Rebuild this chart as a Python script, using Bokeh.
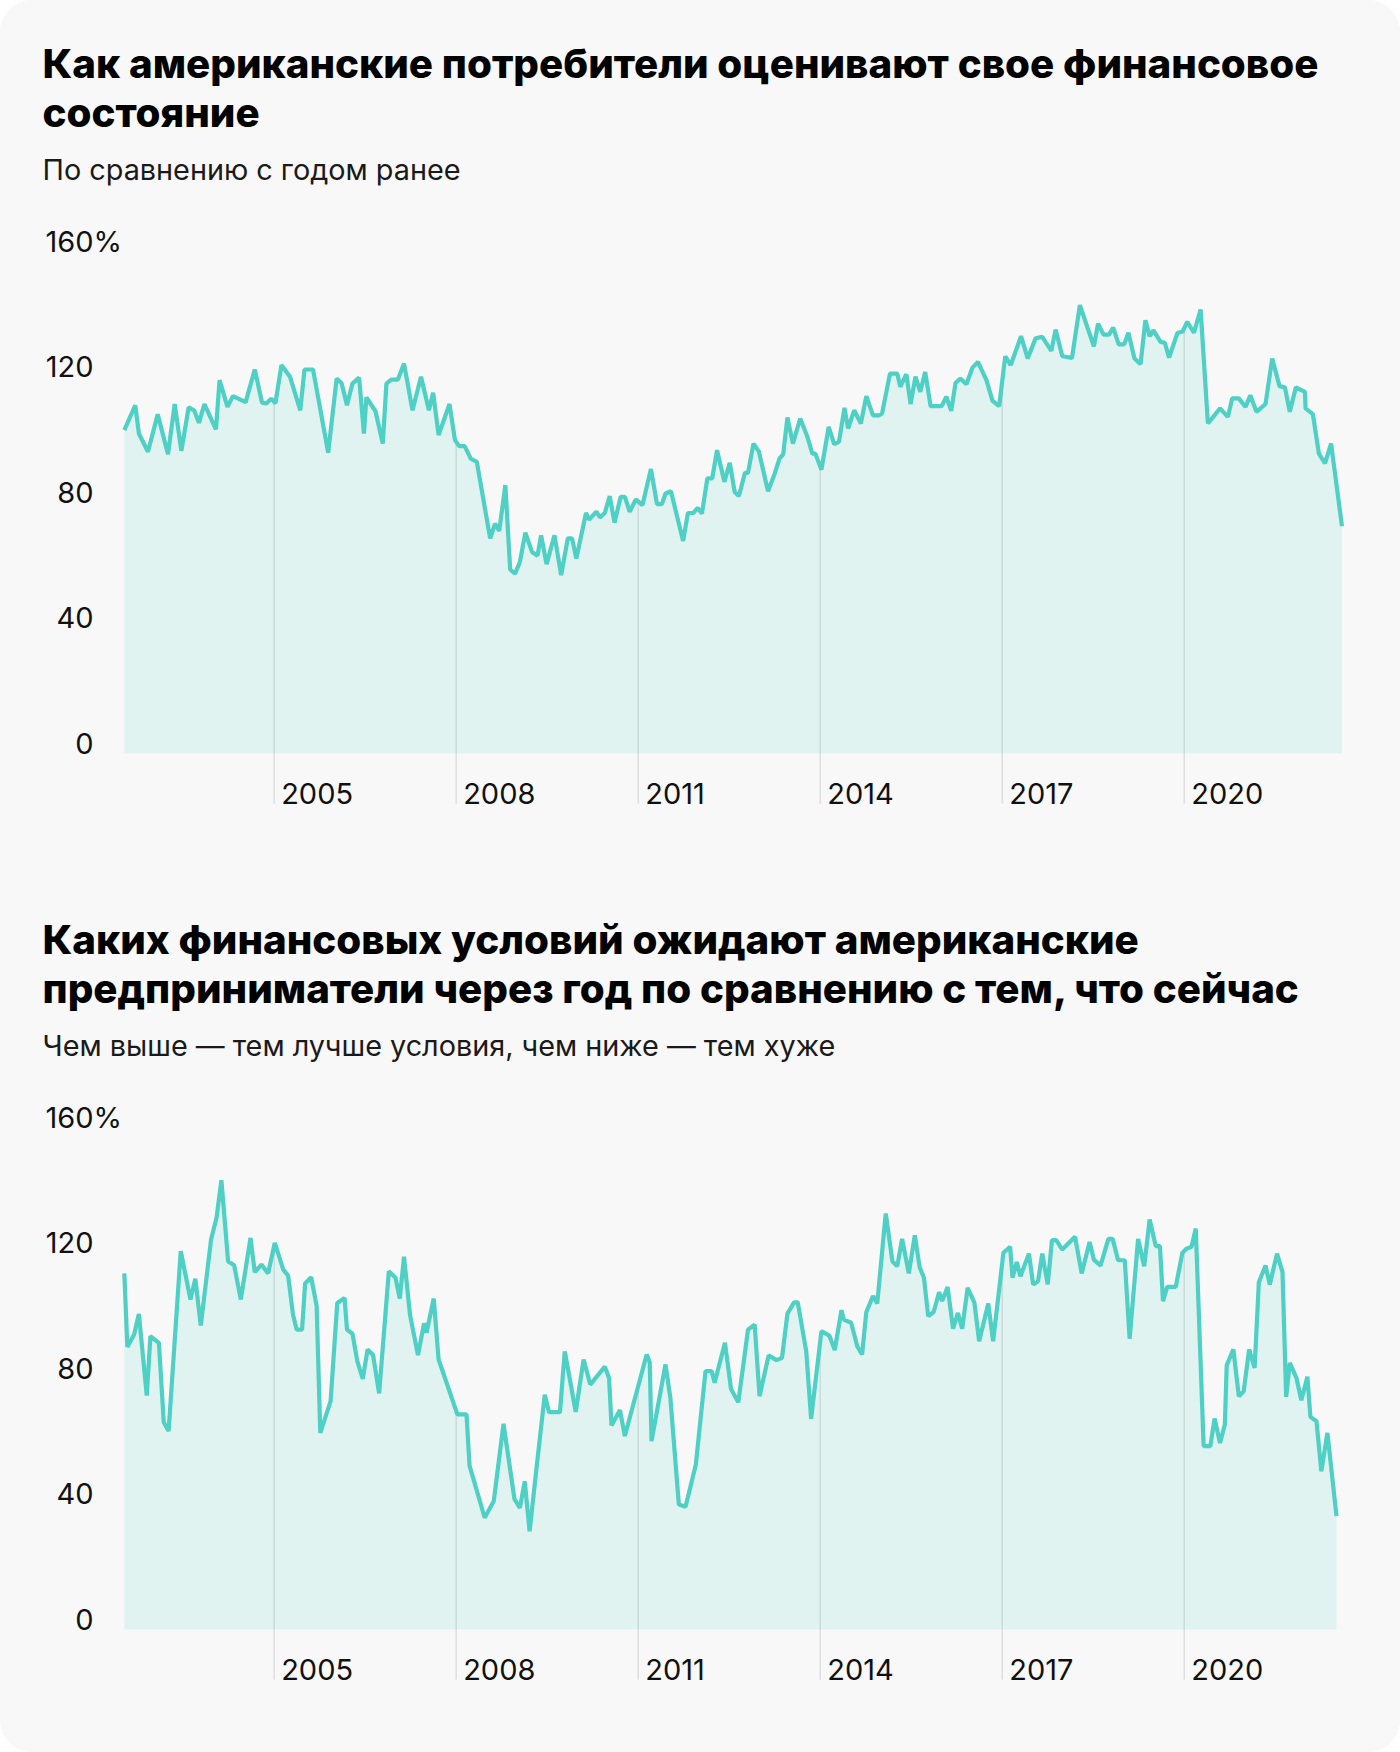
import numpy as np
from bokeh.plotting import figure
from bokeh.layouts import column
from bokeh.models import Range1d, Label, ColumnDataSource
from bokeh.core.properties import value
from bokeh.embed import file_html
from bokeh.resources import INLINE

# ---------------- data ----------------
title_1 = ["Как американские потребители оценивают свое финансовое", "состояние"]
subtitle_1 = "По сравнению с годом ранее"
title_2 = ["Каких финансовых условий ожидают американские",
           "предприниматели через год по сравнению с тем, что сейчас"]
subtitle_2 = "Чем выше — тем лучше условия, чем ниже — тем хуже"

year_ticks = [2005, 2008, 2011, 2014, 2017, 2020]
y_ticks = [0, 40, 80, 120, 160]
y_tick_labels = ["0", "40", "80", "120", "160"]
y_unit = "%"          # shown after the top tick label only

# consumers: current financial situation vs a year ago (decimal years)
cons_years = [
    2002.53, 2002.71, 2002.77, 2002.92, 2003.08, 2003.25, 2003.36, 2003.47, 2003.59, 2003.68,
    2003.76, 2003.85, 2004.04, 2004.10, 2004.23, 2004.32, 2004.53, 2004.68, 2004.80, 2004.87,
    2004.95, 2005.02, 2005.12, 2005.26, 2005.43, 2005.50, 2005.64, 2005.89, 2006.03, 2006.11,
    2006.20, 2006.29, 2006.40, 2006.48, 2006.52, 2006.67, 2006.79, 2006.85, 2006.93, 2007.04,
    2007.14, 2007.28, 2007.42, 2007.55, 2007.62, 2007.71, 2007.89, 2007.98, 2008.05, 2008.14,
    2008.24, 2008.34, 2008.56, 2008.64, 2008.71, 2008.81, 2008.89, 2008.97, 2009.05, 2009.14,
    2009.25, 2009.34, 2009.40, 2009.49, 2009.62, 2009.73, 2009.84, 2009.91, 2009.98, 2010.14,
    2010.19, 2010.31, 2010.37, 2010.45, 2010.53, 2010.61, 2010.71, 2010.78, 2010.86, 2010.96,
    2011.07, 2011.21, 2011.31, 2011.39, 2011.45, 2011.54, 2011.74, 2011.82, 2011.91, 2011.98,
    2012.05, 2012.14, 2012.22, 2012.30, 2012.42, 2012.51, 2012.59, 2012.66, 2012.76, 2012.81,
    2012.90, 2012.99, 2013.14, 2013.24, 2013.33, 2013.39, 2013.46, 2013.55, 2013.67, 2013.79,
    2013.87, 2013.92, 2014.02, 2014.14, 2014.23, 2014.31, 2014.40, 2014.46, 2014.56, 2014.67,
    2014.76, 2014.87, 2014.97, 2015.02, 2015.15, 2015.27, 2015.32, 2015.42, 2015.49, 2015.57,
    2015.65, 2015.73, 2015.82, 2016.00, 2016.08, 2016.16, 2016.23, 2016.31, 2016.41, 2016.51,
    2016.60, 2016.74, 2016.84, 2016.95, 2017.05, 2017.14, 2017.31, 2017.42, 2017.55, 2017.66,
    2017.81, 2017.88, 2017.99, 2018.15, 2018.28, 2018.51, 2018.58, 2018.67, 2018.76, 2018.83,
    2018.92, 2019.01, 2019.08, 2019.18, 2019.28, 2019.36, 2019.43, 2019.49, 2019.61, 2019.68,
    2019.75, 2019.89, 2019.97, 2020.05, 2020.16, 2020.27, 2020.39, 2020.59, 2020.72, 2020.79,
    2020.90, 2021.01, 2021.09, 2021.19, 2021.34, 2021.45, 2021.57, 2021.66, 2021.74, 2021.84,
    2021.99, 2022.00, 2022.12, 2022.22, 2022.32, 2022.42, 2022.60,
]
cons_values = [
    103.0, 110.9, 101.9, 96.1, 108.0, 95.3, 111.3, 96.4, 110.2, 109.3,
    105.3, 111.3, 103.2, 118.9, 110.4, 113.8, 111.9, 122.3, 111.7, 111.5,
    113.0, 111.5, 123.7, 120.0, 109.3, 122.3, 122.3, 95.8, 119.4, 118.0,
    110.9, 117.8, 119.7, 101.9, 113.4, 109.0, 98.7, 117.8, 119.1, 119.1,
    124.2, 109.3, 120.0, 109.3, 114.9, 101.4, 111.3, 99.8, 97.9, 97.9,
    93.9, 92.9, 68.5, 73.2, 70.9, 85.5, 58.6, 57.3, 61.0, 70.3,
    64.2, 63.0, 69.5, 60.3, 69.5, 56.8, 68.5, 68.5, 62.1, 76.6,
    74.5, 77.0, 75.2, 76.6, 82.0, 73.5, 81.7, 81.7, 77.0, 80.9,
    79.1, 90.6, 79.4, 79.4, 82.8, 83.5, 67.7, 76.6, 76.6, 78.2,
    76.4, 87.6, 87.6, 96.6, 86.5, 92.6, 83.3, 82.0, 89.4, 89.4,
    98.7, 96.1, 83.5, 88.6, 94.0, 95.3, 107.0, 98.7, 106.7, 100.8,
    95.5, 95.5, 90.4, 104.0, 98.5, 99.3, 110.1, 103.5, 109.3, 105.1,
    113.8, 107.7, 107.7, 108.3, 121.0, 121.0, 116.8, 120.8, 111.3, 120.0,
    115.2, 121.5, 110.6, 110.6, 113.6, 109.1, 118.0, 119.4, 117.6, 122.9,
    124.7, 118.9, 112.3, 110.6, 126.5, 123.7, 132.9, 125.8, 132.2, 132.7,
    128.2, 135.0, 126.5, 126.0, 142.8, 129.7, 136.9, 133.4, 133.4, 135.6,
    130.3, 130.3, 134.0, 125.8, 124.0, 138.0, 132.9, 134.8, 131.1, 130.8,
    126.1, 134.0, 134.3, 137.5, 134.0, 141.4, 105.1, 109.9, 107.2, 113.1,
    113.1, 110.4, 114.1, 108.8, 111.3, 125.8, 117.0, 116.6, 108.8, 116.6,
    115.2, 109.9, 108.1, 95.5, 92.4, 98.7, 72.4,
]

# businesses: expected conditions a year ahead (decimal years)
biz_years = [
    2002.53, 2002.58, 2002.69, 2002.77, 2002.90, 2002.96, 2003.10, 2003.18, 2003.26, 2003.46,
    2003.62, 2003.70, 2003.79, 2003.96, 2004.05, 2004.13, 2004.24, 2004.34, 2004.45, 2004.61,
    2004.68, 2004.79, 2004.90, 2005.01, 2005.15, 2005.23, 2005.31, 2005.37, 2005.46, 2005.51,
    2005.61, 2005.70, 2005.76, 2005.93, 2006.04, 2006.16, 2006.20, 2006.29, 2006.37, 2006.46,
    2006.54, 2006.63, 2006.73, 2006.89, 2007.00, 2007.07, 2007.14, 2007.24, 2007.37, 2007.47,
    2007.51, 2007.63, 2007.71, 2008.02, 2008.17, 2008.22, 2008.47, 2008.62, 2008.78, 2008.96,
    2009.05, 2009.13, 2009.21, 2009.32, 2009.46, 2009.53, 2009.71, 2009.79, 2009.97, 2010.10,
    2010.21, 2010.45, 2010.52, 2010.56, 2010.70, 2010.78, 2011.14, 2011.19, 2011.22, 2011.45,
    2011.53, 2011.67, 2011.78, 2011.95, 2012.11, 2012.21, 2012.26, 2012.43, 2012.53, 2012.65,
    2012.81, 2012.92, 2013.00, 2013.15, 2013.28, 2013.37, 2013.46, 2013.57, 2013.63, 2013.77,
    2013.85, 2014.02, 2014.15, 2014.24, 2014.35, 2014.39, 2014.51, 2014.61, 2014.69, 2014.76,
    2014.87, 2014.94, 2015.08, 2015.19, 2015.27, 2015.35, 2015.46, 2015.56, 2015.64, 2015.71,
    2015.78, 2015.87, 2015.96, 2016.01, 2016.10, 2016.19, 2016.27, 2016.34, 2016.43, 2016.54,
    2016.62, 2016.77, 2016.85, 2017.02, 2017.13, 2017.17, 2017.24, 2017.30, 2017.44, 2017.51,
    2017.59, 2017.66, 2017.75, 2017.82, 2017.89, 2017.99, 2018.20, 2018.31, 2018.44, 2018.51,
    2018.62, 2018.75, 2018.82, 2018.91, 2019.02, 2019.10, 2019.24, 2019.34, 2019.43, 2019.53,
    2019.60, 2019.65, 2019.72, 2019.86, 2019.97, 2020.04, 2020.12, 2020.19, 2020.32, 2020.43,
    2020.50, 2020.59, 2020.67, 2020.70, 2020.81, 2020.90, 2020.98, 2021.07, 2021.16, 2021.23,
    2021.34, 2021.41, 2021.53, 2021.62, 2021.68, 2021.74, 2021.85, 2021.93, 2022.03, 2022.08,
    2022.18, 2022.26, 2022.36, 2022.51,
]
biz_values = [
    113.4, 90.0, 93.9, 100.5, 74.5, 93.4, 91.3, 66.0, 63.2, 120.5,
    105.1, 111.7, 96.8, 124.2, 131.1, 143.1, 117.3, 116.0, 105.1, 124.7,
    113.8, 116.2, 113.4, 123.1, 114.6, 112.7, 100.3, 95.5, 95.5, 110.2,
    112.2, 103.0, 62.6, 72.7, 104.0, 105.6, 95.5, 94.2, 85.5, 79.8,
    89.2, 87.4, 75.2, 114.1, 112.0, 105.4, 118.7, 100.1, 87.4, 97.5,
    94.5, 105.4, 86.0, 68.5, 68.5, 52.2, 35.6, 40.9, 65.5, 41.6,
    38.7, 47.2, 31.3, 50.7, 74.8, 69.2, 69.2, 88.6, 69.3, 86.0,
    78.0, 83.7, 80.1, 65.0, 69.9, 61.6, 87.6, 85.1, 60.0, 84.4,
    73.8, 39.8, 39.1, 52.5, 82.3, 82.3, 78.6, 91.3, 76.6, 72.4,
    95.5, 97.1, 74.3, 87.3, 85.8, 86.5, 100.6, 104.2, 104.2, 88.6,
    67.1, 95.0, 93.6, 89.0, 101.7, 98.7, 97.7, 90.2, 87.6, 101.1,
    106.2, 103.8, 132.5, 117.3, 115.7, 124.4, 113.4, 125.5, 115.3, 112.0,
    99.8, 101.1, 107.4, 104.6, 109.1, 95.8, 100.8, 95.8, 108.8, 104.2,
    91.8, 103.8, 91.8, 120.0, 121.9, 112.0, 117.0, 112.5, 119.7, 109.9,
    110.9, 119.7, 109.9, 124.0, 124.0, 121.0, 125.1, 113.4, 123.4, 117.8,
    115.9, 124.4, 124.4, 117.6, 117.6, 92.6, 124.4, 115.7, 130.6, 122.1,
    122.1, 104.6, 109.1, 109.1, 120.0, 121.3, 121.9, 127.7, 58.4, 58.4,
    67.2, 59.4, 65.3, 84.1, 89.2, 74.3, 75.9, 89.2, 83.3, 110.6,
    115.9, 109.9, 119.7, 113.8, 74.1, 84.9, 80.1, 73.0, 80.5, 67.7,
    66.3, 50.4, 62.6, 36.1,
]

# ---------------- style / layout constants ----------------
BG = "#f8f8f8"
LINE = "#4fd0c5"
FILL = "#e0f3f1"
FONT = "Inter"
TITLE_FONT = "Inter ExtraBold, Inter"
W, H = 1400, 876
PX_PER_YEAR = 60.67
PX_PER_UNIT = 3.14
X0_PX, X0_YEAR = 122, 2002.5      # pixel column of the first month
ZERO_PX = 753                      # pixel row of the zero line (from top)


def make_chart(title_lines, subtitle, years, values):
    xs = X0_YEAR - X0_PX / PX_PER_YEAR
    xr = Range1d(xs, xs + W / PX_PER_YEAR)
    yr = Range1d(-(H - ZERO_PX) / PX_PER_UNIT, ZERO_PX / PX_PER_UNIT)
    p = figure(width=W, height=H, output_backend="svg", toolbar_location=None,
               x_range=xr, y_range=yr, x_axis_location=None, y_axis_location=None,
               min_border=0, background_fill_color=BG, border_fill_color=BG)
    p.outline_line_color = None
    p.grid.visible = False

    src = ColumnDataSource(dict(x=years, y=values))
    p.varea(x="x", y1=0, y2="y", source=src, fill_color=FILL)

    tops = np.interp(year_ticks, years, values)
    p.segment(x0=year_ticks, y0=[-16] * len(year_ticks), x1=year_ticks, y1=tops,
              line_color="#000000", line_alpha=0.1, line_width=1.5)
    p.line(x="x", y="y", source=src, line_color=LINE, line_width=4.2)

    # x tick labels (years), to the right of the year lines
    p.text(x=year_ticks, y=[0] * len(year_ticks), text=[str(y) for y in year_ticks],
           x_offset=7, y_offset=40, text_font=value(FONT), text_font_size="29px",
           text_color="#111111", text_align="left", text_baseline="middle")

    # y tick labels, sitting just above their values, right-aligned
    p.text(x=[xs] * len(y_ticks), y=y_ticks, text=y_tick_labels,
           x_offset=93, y_offset=-10, text_font=value(FONT), text_font_size="29px",
           text_color="#111111", text_align="right", text_baseline="middle")
    p.text(x=[xs], y=[y_ticks[-1]], text=[y_unit],
           x_offset=93, y_offset=-10, text_font=value(FONT), text_font_size="29px",
           text_color="#111111", text_align="left", text_baseline="middle")

    for line, mid in zip(title_lines, [63, 112]):
        p.add_layout(Label(x=42, y=H - mid, x_units="screen", y_units="screen",
                           text=line, text_font=TITLE_FONT, text_font_size="40.3px",
                           text_font_style="bold", text_color="#000000",
                           text_align="left", text_baseline="middle"))
    p.add_layout(Label(x=42, y=H - 169, x_units="screen", y_units="screen",
                       text=subtitle, text_font=FONT, text_font_size="28.8px",
                       text_color="#1a1a1a", text_align="left",
                       text_baseline="middle"))
    return p


p1 = make_chart(title_1, subtitle_1, cons_years, cons_values)
p2 = make_chart(title_2, subtitle_2, biz_years, biz_values)
layout = column(p1, p2, spacing=0, styles={"border-radius": "32px", "overflow": "hidden",
                                            "background-color": BG})

with open("out.html", "w") as f:
    f.write(file_html(layout, INLINE))
